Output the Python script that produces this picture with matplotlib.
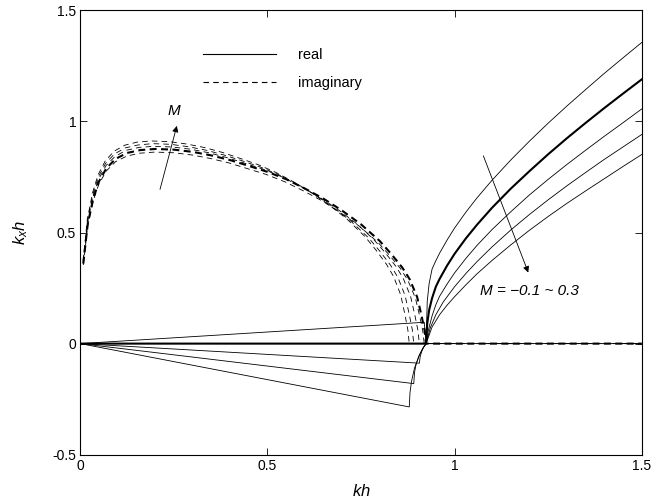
import matplotlib
matplotlib.use("Agg")
from matplotlib import pyplot as plt
from matplotlib.lines import Line2D

plt.rcParams['font.family'] = ['Liberation Sans', 'DejaVu Sans']
plt.rcParams['mathtext.fontset'] = 'custom'
plt.rcParams['mathtext.it'] = 'Liberation Sans:italic'
plt.rcParams['mathtext.rm'] = 'Liberation Sans'
plt.rcParams['lines.scale_dashes'] = False

# real part of k_x h, one curve per Mach number (M = -0.1, 0, 0.1, 0.2, 0.3)
re_kh_n01 = [0, 0.919, 0.924, 0.927, 0.932, 0.94, 0.95, 0.96, 0.98, 1.0, 1.03, 1.06,
             1.1, 1.15, 1.2, 1.25, 1.3, 1.35, 1.4, 1.45, 1.5]
re_n01 = [0, 0.096, 0.0, 0.19, 0.27, 0.336, 0.373, 0.407, 0.466, 0.52, 0.591, 0.656,
          0.735, 0.826, 0.911, 0.992, 1.069, 1.143, 1.216, 1.286, 1.355]

re_kh_0 = [0, 0.924, 0.927, 0.932, 0.94, 0.95, 0.96, 0.98, 1.0, 1.03, 1.06, 1.1,
           1.15, 1.2, 1.25, 1.3, 1.35, 1.4, 1.45, 1.5]
re_0 = [0, 0, 0.09, 0.15, 0.205, 0.256, 0.291, 0.351, 0.404, 0.473, 0.535, 0.611,
        0.697, 0.776, 0.852, 0.924, 0.993, 1.060, 1.125, 1.189]

re_kh_01 = [0, 0.906, 0.908, 0.912, 0.918, 0.924, 0.93, 0.94, 0.95, 0.96, 0.98, 1.0,
            1.03, 1.06, 1.1, 1.15, 1.2, 1.25, 1.3, 1.35, 1.4, 1.45, 1.5]
re_01 = [0, -0.088, -0.06, -0.036, -0.014, 0.0, 0.06, 0.125, 0.175, 0.213, 0.268, 0.318,
         0.383, 0.442, 0.513, 0.593, 0.669, 0.739, 0.806, 0.870, 0.933, 0.994, 1.056]

re_kh_02 = [0, 0.891, 0.893, 0.897, 0.905, 0.915, 0.924, 0.935, 0.95, 0.97, 1.0, 1.03,
            1.06, 1.1, 1.15, 1.2, 1.25, 1.3, 1.35, 1.4, 1.45, 1.5]
re_02 = [0, -0.18, -0.13, -0.095, -0.056, -0.022, 0.0, 0.07, 0.13, 0.188, 0.256, 0.315,
         0.369, 0.435, 0.511, 0.581, 0.647, 0.71, 0.77, 0.829, 0.885, 0.941]

re_kh_03 = [0, 0.879, 0.881, 0.885, 0.893, 0.905, 0.915, 0.924, 0.94, 0.96, 0.98, 1.0,
            1.03, 1.06, 1.1, 1.15, 1.2, 1.25, 1.3, 1.35, 1.4, 1.45, 1.5]
re_03 = [0, -0.285, -0.22, -0.17, -0.11, -0.055, -0.022, 0.0, 0.075, 0.13, 0.173, 0.211,
         0.264, 0.314, 0.374, 0.444, 0.51, 0.572, 0.631, 0.687, 0.742, 0.797, 0.851]

# imaginary part, zero past each cut-off
im_kh_n01 = [0.008, 0.0199, 0.0348, 0.0497, 0.0696, 0.0945, 0.1243, 0.1591, 0.1989, 0.2487,
             0.2984, 0.3481, 0.3978, 0.4476, 0.4973, 0.547, 0.5968, 0.6465, 0.6962, 0.746,
             0.7957, 0.8255, 0.8554, 0.8752, 0.8951, 0.9071, 0.915, 0.919, 1.5]
im_n01 = [0.354, 0.531, 0.645, 0.718, 0.777, 0.819, 0.844, 0.857, 0.862, 0.859,
          0.849, 0.833, 0.813, 0.787, 0.761, 0.728, 0.687, 0.642, 0.588, 0.528,
          0.455, 0.399, 0.338, 0.285, 0.207, 0.122, 0.059, 0.0, 0.0]

im_kh_0 = [0.008, 0.02, 0.035, 0.05, 0.07, 0.095, 0.125, 0.16, 0.2, 0.25,
           0.3, 0.35, 0.4, 0.45, 0.5, 0.55, 0.6, 0.65, 0.7, 0.75,
           0.8, 0.83, 0.86, 0.88, 0.9, 0.912, 0.92, 0.924, 1.5]
im_0 = [0.36, 0.54, 0.655, 0.73, 0.79, 0.832, 0.858, 0.871, 0.876, 0.873,
        0.863, 0.847, 0.826, 0.80, 0.773, 0.74, 0.698, 0.652, 0.598, 0.537,
        0.462, 0.405, 0.343, 0.29, 0.21, 0.124, 0.06, 0.0, 0.0]

im_kh_01 = [0.0078, 0.0196, 0.0343, 0.049, 0.0686, 0.0931, 0.1226, 0.1569, 0.1961, 0.2451,
            0.2942, 0.3432, 0.3922, 0.4412, 0.4903, 0.5393, 0.5883, 0.6373, 0.6864, 0.7354,
            0.7844, 0.8138, 0.8432, 0.8628, 0.8825, 0.8942, 0.902, 0.906, 1.5]
im_01 = [0.365, 0.547, 0.664, 0.740, 0.801, 0.843, 0.870, 0.883, 0.888, 0.885,
         0.875, 0.859, 0.837, 0.811, 0.784, 0.750, 0.708, 0.661, 0.606, 0.544,
         0.468, 0.411, 0.348, 0.294, 0.213, 0.126, 0.061, 0.0, 0.0]

im_kh_02 = [0.0077, 0.0193, 0.0338, 0.0482, 0.0675, 0.0916, 0.1205, 0.1543, 0.1929, 0.2411,
            0.2893, 0.3375, 0.3857, 0.4339, 0.4822, 0.5304, 0.5786, 0.6268, 0.675, 0.7232,
            0.7714, 0.8004, 0.8293, 0.8486, 0.8679, 0.8795, 0.8872, 0.891, 1.5]
im_02 = [0.37, 0.555, 0.673, 0.750, 0.811, 0.854, 0.881, 0.894, 0.90, 0.897,
         0.886, 0.870, 0.848, 0.822, 0.794, 0.760, 0.717, 0.670, 0.614, 0.551,
         0.474, 0.416, 0.352, 0.298, 0.216, 0.127, 0.062, 0.0, 0.0]

im_kh_03 = [0.0076, 0.019, 0.0333, 0.0476, 0.0666, 0.0904, 0.1189, 0.1522, 0.1903, 0.2378,
            0.2854, 0.333, 0.3805, 0.4281, 0.4757, 0.5232, 0.5708, 0.6183, 0.6659, 0.7135,
            0.761, 0.7896, 0.8181, 0.8371, 0.8562, 0.8676, 0.8752, 0.879, 1.5]
im_03 = [0.375, 0.562, 0.682, 0.760, 0.822, 0.866, 0.893, 0.907, 0.912, 0.909,
         0.898, 0.882, 0.860, 0.833, 0.805, 0.770, 0.727, 0.679, 0.623, 0.559,
         0.481, 0.422, 0.357, 0.302, 0.219, 0.129, 0.062, 0.0, 0.0]

thin = 0.6
thick = 1.5
dash_thin = (4, 3)
dash_thick = (5, 3.2)

fig = plt.figure(figsize=(6.68, 5.01), dpi=100)
ax = fig.add_axes([0.1202, 0.0924, 0.8404, 0.887])

for x, y in [(re_kh_n01, re_n01), (re_kh_01, re_01), (re_kh_02, re_02), (re_kh_03, re_03)]:
    ax.plot(x, y, color="k", lw=thin)
for x, y in [(im_kh_n01, im_n01), (im_kh_01, im_01), (im_kh_02, im_02), (im_kh_03, im_03)]:
    ax.plot(x, y, color="k", lw=thin, dashes=dash_thin)
ax.plot(re_kh_0, re_0, color="k", lw=thick)
ax.plot(im_kh_0, im_0, color="k", lw=thick, dashes=dash_thick)

ax.set_xlim(0, 1.5)
ax.set_ylim(-0.5, 1.5)
ax.set_xticks([0, 0.5, 1, 1.5])
ax.set_xticklabels(["0", "0.5", "1", "1.5"])
ax.set_yticks([-0.5, 0, 0.5, 1, 1.5])
ax.set_yticklabels(["-0.5", "0", "0.5", "1", "1.5"])
ax.tick_params(direction="in", length=5, width=0.6, top=True, right=True,
               labelsize=10, pad=3)
for s in ax.spines.values():
    s.set_linewidth(0.8)

ax.set_xlabel("$kh$", fontsize=12, labelpad=7)
ax.set_ylabel("$k_x h$", fontsize=12, labelpad=16)

handles = [Line2D([], [], color="k", lw=0.8),
           Line2D([], [], color="k", lw=0.8, dashes=dash_thin)]
ax.legend(handles, ["real", "imaginary"], loc="upper left", bbox_to_anchor=(0.2186, 0.916),
          frameon=False, fontsize=10.5, handlelength=5.0, handletextpad=1.5,
          labelspacing=1.0, borderpad=0, borderaxespad=0)

arrow = dict(arrowstyle="-|>", lw=0.6, color="k", mutation_scale=9, shrinkA=0, shrinkB=0)
ax.annotate("", xy=(0.258, 0.98), xytext=(0.213, 0.694), arrowprops=arrow)
ax.text(0.25, 1.046, "M", style="italic", fontsize=11, ha="center", va="center")
ax.annotate("", xy=(1.197, 0.32), xytext=(1.077, 0.845), arrowprops=arrow)
ax.text(1.068, 0.237, "M = \u22120.1 ~ 0.3", style="italic", fontsize=11, ha="left", va="center")

fig.savefig("out.png", dpi=100)
plt.close()
